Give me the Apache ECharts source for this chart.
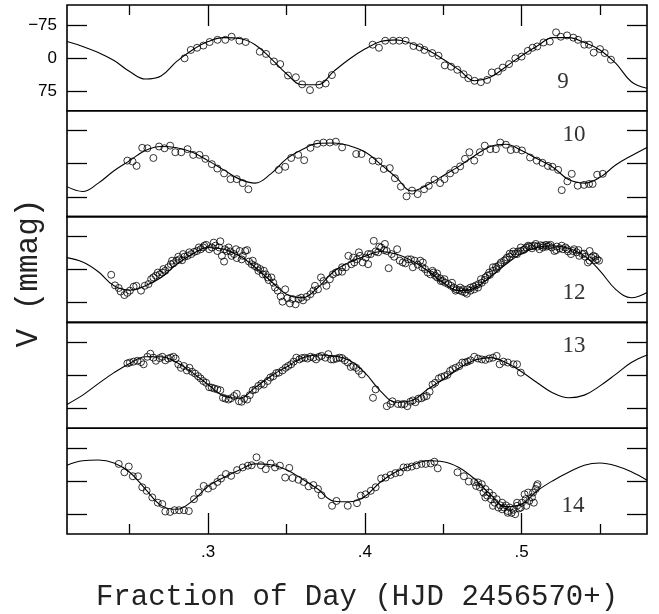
<!DOCTYPE html>
<html><head><meta charset="utf-8">
<script src="https://cdn.jsdelivr.net/npm/echarts@6/dist/echarts.min.js"></script>
<style>html,body{margin:0;padding:0;background:#fff}#c{width:659px;height:614px}</style>
</head><body><div id="c"></div>
<script>
const panelLabels = ['9','10','12','13','14'];
const xTitle = 'Fraction of Day (HJD 2456570+)';
const yTitle = 'V (mmag)';
const yTickValues = [-75, 0, 75];
const yTickLabels = ['\u221275', '0', '75'];
const xMajorTicks = [0.3, 0.4, 0.5];
const xMajorLabels = ['.3', '.4', '.5'];
const xMinorTicks = [0.25, 0.35, 0.45, 0.55];

const curveX = [0.21,0.22,0.23,0.24,0.25,0.26,0.27,0.28,0.29,0.30,0.31,0.32,0.33,0.34,0.35,0.36,0.37,0.38,0.39,0.40,0.41,0.42,0.43,0.44,0.45,0.46,0.47,0.48,0.49,0.50,0.51,0.52,0.53,0.54,0.55,0.56,0.57,0.58];
const curve9  = [-37,-26,-12,6,31,48,41,8,-18,-37,-46,-44,-30,1,36,61,61,31,3,-20,-37,-41,-32,-18,3,27,52,44,20,-5,-27,-46,-46,-35,-18,12,54,69];
const curve10 = [52,63,44,16,-7,-30,-39,-36,-26,-7,14,35,44,23,-11,-32,-46,-47,-41,-27,1,31,62,48,27,6,-18,-39,-44,-30,-11,8,36,44,31,3,-18,-37];
const curve12 = [-27,-17,5,37,47,37,18,-12,-35,-50,-46,-31,-5,26,56,64,41,5,-16,-30,-41,-35,-20,3,30,48,42,17,-12,-36,-50,-54,-48,-31,3,45,64,52];
const curve13 = [66,45,19,-6,-27,-42,-42,-29,-6,21,47,52,28,2,-19,-39,-46,-44,-34,-6,36,61,57,32,9,-16,-34,-40,-29,-8,17,40,51,45,24,-2,-29,-46];
const curve14 = [-36,-46,-48,-41,-20,18,55,64,45,12,-8,-25,-39,-37,-26,-5,18,45,47,35,2,-21,-36,-46,-44,-31,-5,30,58,52,22,-1,-20,-36,-41,-35,-21,-2];

const pts9 = [[.285,1],[.289,-18],[.293,-23],[.297,-28],[.301,-36],[.306,-41],[.311,-41],[.315,-48],[.320,-39],[.324,-36],[.333,-14],[.337,-9],[.342,8],[.346,14],[.351,40],[.356,44],[.360,60],[.365,73],[.371,61],[.375,58],[.379,39],[.405,-30],[.409,-23],[.413,-39],[.418,-39],[.422,-39],[.426,-39],[.431,-27],[.435,-24],[.438,-18],[.443,-11],[.447,-5],[.451,17],[.455,20],[.459,27],[.463,37],[.466,46],[.470,52],[.474,55],[.478,50],[.481,33],[.485,31],[.488,22],[.492,14],[.496,1],[.500,-3],[.504,-16],[.507,-23],[.510,-26],[.514,-35],[.518,-37],[.522,-58],[.525,-48],[.529,-51],[.533,-46],[.536,-41],[.540,-30],[.543,-30],[.546,-12],[.550,-20],[.553,-11],[.557,4]];

const pts10 = [[.2485,-7],[.2518,-5],[.2544,5],[.258,-36],[.2613,-35],[.2651,-13],[.2687,-39],[.2722,-35],[.2758,-41],[.2791,-26],[.2829,-26],[.2869,-33],[.2905,-20],[.2945,-20],[.2983,-11],[.3024,1],[.3059,11],[.3102,22],[.3143,35],[.3183,35],[.3221,44],[.3257,58],[.3451,14],[.3492,7],[.353,-13],[.3575,-20],[.3613,-8],[.3653,-36],[.3696,-45],[.3736,-48],[.3777,-48],[.3815,-50],[.3855,-37],[.3945,-22],[.3979,-22],[.405,-7],[.4088,-5],[.4121,12],[.4159,10],[.4192,33],[.423,52],[.4266,74],[.4301,61],[.4337,69],[.4378,58],[.4408,50],[.4444,36],[.448,44],[.4508,35],[.4544,22],[.4575,14],[.4608,6],[.4639,-11],[.4667,-26],[.4698,-7],[.4734,-26],[.4765,-41],[.48,-33],[.4836,-33],[.4864,-48],[.49,-43],[.4931,-31],[.4967,-33],[.5002,-30],[.5054,-14],[.5097,-7],[.5133,-2],[.5168,5],[.5197,7],[.5233,14],[.5256,60],[.5292,40],[.532,23],[.5358,50],[.5399,48],[.543,46],[.5453,46],[.5482,25],[.5518,23]];

const pts12 = [[.2382,12],[.2406,36],[.2430,42],[.2442,50],[.2466,58],[.2485,53],[.2501,48],[.2525,39],[.2542,37],[.2572,48],[.2596,37],[.2620,33],[.2651,18],[.2667,14],[.2691,11],[.2708,7],[.2727,3],[.2746,-5],[.2762,-12],[.2779,-14],[.2798,-20],[.2817,-23],[.2834,-21],[.2850,-29],[.2869,-31],[.2893,-35],[.2912,-40],[.2929,-42],[.2953,-46],[.2969,-50],[.2988,-56],[.3007,-46],[.3024,-50],[.3047,-54],[.3059,-42],[.3078,-64],[.3088,-31],[.3102,-18],[.3119,-42],[.3131,-50],[.3150,-31],[.3166,-35],[.3183,-26],[.3202,-42],[.3221,-31],[.3237,-42],[.3249,-44],[.3261,-18],[.3278,-12],[.3297,-8],[.3313,-5],[.3332,-1],[.3349,11],[.3368,11],[.3387,24],[.3404,18],[.3416,30],[.3427,41],
[.2637,22],[.2679,7],[.2715,-1],[.2770,-20],[.2810,-29],[.2841,-35],[.2881,-39],[.2941,-50],[.2976,-54],[.3036,-61],[.3071,-50],[.3107,-46],[.3142,-41],[.3178,-46],[.3214,-23],[.3285,-20],[.3321,3],[.3356,3],[.3380,18],
[.3444,48],[.3463,61],[.3475,73],[.3492,45],[.3506,65],[.3522,77],[.3539,67],[.3558,79],[.3577,67],[.3594,64],[.3606,70],[.3629,62],[.3653,56],[.3672,48],[.3682,37],[.3701,45],[.3720,18],[.3736,26],[.3755,37],[.3777,22],[.3796,11],[.3815,7],[.3831,5],[.3855,5],[.3879,-5],[.3895,-31],[.3914,-12],[.3933,-16],[.3950,-23],[.3969,-31],[.3986,-16],[.4005,-27],[.4021,-12],[.4038,-35],[.4057,-65],[.4069,-41],[.4085,-39],[.4104,-50],[.4123,-44],[.4140,-42],[.4152,-3],[.4171,-35],[.4187,-29],[.4206,-46],[.4223,-20],
[.3855,-5],[.3926,-27],[.3962,-39],[.4021,-35],[.4092,-52],[.4128,-58],
[.4242,-16],[.4259,-14],[.4275,-23],[.4294,-23],[.4306,-5],[.4318,-20],[.4337,-11],[.4353,-20],[.4370,-16],[.4384,-1],[.4401,7],[.4418,11],[.4432,3],[.4449,14],[.4461,18],[.4480,20],[.4496,26],[.4513,30],[.4532,33],[.4549,37],[.4567,41],[.4584,45],[.4603,47],[.4622,50],[.4639,52],[.4655,45],[.4674,41],[.4693,39],[.4710,36],[.4727,33],[.4746,30],[.4765,24],[.4781,14],[.4798,12],[.4817,3],[.4836,-6],[.4852,-8],[.4869,-16],[.4888,-20],[.4907,-27],[.4924,-29],[.4940,-35],[.4959,-36],[.4978,-41],[.4995,-42],[.5011,-44],[.5030,-50],[.5049,-52],[.5066,-53],[.5082,-54],[.5101,-52],[.5121,-55],[.5137,-54],[.5156,-56],[.5173,-54],[.5192,-50],[.5209,-42],[.5225,-52],[.5244,-48],[.5263,-46],[.5280,-50],[.5296,-41],[.5315,-35],[.5335,-46],[.5351,-39],[.5368,-31],[.5387,-35],[.5406,-29],[.5423,-16],[.5434,-42],[.5446,-27],[.5458,-31],[.5470,-21],[.5482,-23],[.5494,-20],
[.4366,-5],[.4437,7],[.4461,9],[.4484,26],[.4508,22],[.4556,30],[.4579,48],[.4608,41],[.4627,45],[.4651,55],[.4674,48],[.4698,45],[.4722,41],[.4741,22],[.4769,18],[.4793,7],[.4817,-5],[.4841,-1],[.4864,-12],[.4900,-23],[.4924,-36],[.4948,-41],[.4971,-35],[.4995,-50],[.5019,-46],[.5042,-54],[.5066,-48],[.5090,-58],[.5114,-46],[.5137,-50],[.5161,-52],[.5185,-56],[.5221,-44],[.5256,-54],[.5292,-46],[.5327,-42],[.5363,-44],[.5399,-36],[.5434,-20],[.5470,-29]];

const pts13 = [[.2485,-27],[.2501,-29],[.2525,-31],[.2549,-33],[.2572,-30],[.2589,-25],[.2613,-42],[.2632,-49],[.2651,-40],[.2667,-33],[.2691,-39],[.2708,-42],[.2727,-34],[.2746,-38],[.2762,-40],[.2779,-42],[.2793,-38],[.2810,-25],[.2827,-17],[.2846,-21],[.2865,-11],[.2881,-17],[.2898,-8],[.2917,-4],[.2936,2],[.2952,7],[.2969,13],[.2988,17],[.3007,27],[.3024,28],[.3040,30],[.3059,32],[.3078,34],[.3095,51],[.3112,53],[.3131,55],[.3147,52],[.3166,47],[.3183,42],[.3197,59],[.3214,60],[.3230,53],[.3249,55],[.3266,45],[.3285,34],[.3302,32],[.3321,24],[.3340,19],[.3356,21],[.3380,13],[.3397,5],[.3416,2],[.3435,-5],[.3451,-6],[.3475,-11],[.3494,-17],[.3511,-21],[.3530,-25],[.3546,-31],[.3563,-40],[.3582,-36],[.3598,-39],[.3617,-40],[.3634,-38],[.3653,-42],[.3672,-40],[.3689,-36],[.3708,-42],[.3724,-44],[.3748,-40],[.3767,-48],[.3784,-36],[.3800,-36],[.3819,-38],[.3838,-40],[.3855,-39],[.3872,-34],[.3891,-29],[.3910,-19],[.3926,-21],[.3945,-17],[.3962,-10],[.3981,-2],[.4052,51],[.4069,32],[.4140,70],[.4164,65],[.4176,59],[.4211,65],[.4235,66],[.4252,65],[.4271,70],[.4290,60],[.4306,57],[.4323,61],[.4342,53],[.4361,52],[.4377,49],[.4394,47],[.4413,37],[.4432,21],[.4449,17],[.4472,7],[.4489,4],[.4508,2],[.4527,-1],[.4544,-10],[.4560,-14],[.4579,-17],[.4603,-21],[.4622,-29],[.4639,-29],[.4655,-31],[.4674,-34],[.4698,-42],[.4722,-38],[.4746,-36],[.4769,-35],[.4793,-38],[.4817,-40],[.4841,-44],[.4860,-25],[.4884,-31],[.4912,-29],[.4948,-25],[.4971,-25],[.4995,-6]];

const pts14 = [[.2430,-39],[.2466,-20],[.2494,-33],[.2520,-11],[.2553,-11],[.2580,14],[.2608,22],[.2644,37],[.2679,49],[.2708,52],[.2727,69],[.2758,70],[.2786,66],[.2815,66],[.2846,66],[.2877,68],[.2910,41],[.2941,26],[.2972,11],[.3000,17],[.3031,11],[.3059,2],[.3083,-6],[.3114,-16],[.3147,-12],[.3185,-25],[.3221,-31],[.3254,-35],[.3278,-36],[.3309,-54],[.3337,-36],[.3368,-27],[.3399,-40],[.3427,-31],[.3458,-35],[.3492,-8],[.3518,-30],[.3539,-7],[.3577,-3],[.3610,2],[.3641,12],[.3672,9],[.3701,18],[.3724,32],[.3791,56],[.3819,45],[.3891,56],[.3950,50],[.3974,33],[.4005,30],[.4038,22],[.4069,14],[.4104,-6],[.4133,-8],[.4164,-14],[.4195,-18],[.4223,-20],[.4247,-31],[.4271,-31],[.4299,-33],[.4330,-36],[.4361,-39],[.4389,-39],[.4420,-40],[.4444,-44],[.4465,-29],[.4591,-20],[.4632,-11],[.4663,1],[.4698,2],[.4722,3],[.4746,7],[.4769,18],[.4793,26],[.4817,33],[.4841,41],[.4864,55],[.4888,60],[.4912,68],[.4936,72],[.4959,75],[.4983,62],[.5002,49],[.5026,41],[.5049,45],[.5073,26],[.5097,11],[.4710,11],[.4734,14],[.4757,26],[.4781,33],[.4805,41],[.4829,49],[.4852,60],[.4876,64],[.4900,55],[.4924,60],[.4948,65],[.4971,56],[.4995,60],[.5019,30],[.5042,26],[.5066,37],[.5090,18],[.5102,7],[.4769,37],[.4817,56],[.4876,49],[.4912,72],[.4971,49],[.5030,56],[.5078,49]];

const curves = [curve9, curve10, curve12, curve13, curve14];
const points = [pts9, pts10, pts12, pts13, pts14];

const chart = echarts.init(document.getElementById('c'), null, {renderer: 'canvas'});
const L = 67, R = 12, T = 5, H = 105.8, N = 5;
const labelPos = [[563, 82], [574, 135], [574, 293], [574, 346], [573, 506]];
const grids = [], xAxes = [], yAxes = [], series = [], graphics = [];
const sansFont = '"Liberation Sans", Arial, sans-serif';

for (let i = 0; i < N; i++) {
  const isTop = i === 0, isBot = i === N - 1;
  grids.push({left: L, right: R, top: T + i * H, height: H, show: true, borderColor: '#000', borderWidth: 1.6, backgroundColor: 'transparent'});
  const showX = isTop || isBot;
  xAxes.push({
    type: 'value', gridIndex: i, min: 0.21, max: 0.58, show: showX, position: isBot ? 'bottom' : 'top',
    axisLine: {show: false, onZero: false}, splitLine: {show: false},
    axisTick: {show: true, inside: true, length: 21, customValues: xMajorTicks, lineStyle: {color: '#000', width: 1.3}},
    axisLabel: {show: isBot, customValues: xMajorTicks, margin: 10, fontFamily: sansFont, fontSize: 17, color: '#000',
      formatter: v => { const k = xMajorTicks.findIndex(t => Math.abs(t - v) < 1e-6); return k >= 0 ? xMajorLabels[k] : ''; }}
  });
  xAxes.push({
    type: 'value', gridIndex: i, min: 0.21, max: 0.58, show: showX, position: isBot ? 'bottom' : 'top',
    axisLine: {show: false, onZero: false}, splitLine: {show: false},
    axisTick: {show: true, inside: true, length: 10, customValues: xMinorTicks, lineStyle: {color: '#000', width: 1.3}},
    axisLabel: {show: false}
  });
  yAxes.push({
    type: 'value', gridIndex: i, min: -120, max: 120, inverse: true, position: 'left',
    axisLine: {show: false, onZero: false}, splitLine: {show: false},
    axisTick: {show: true, inside: true, length: 20, customValues: yTickValues, lineStyle: {color: '#000', width: 1.3}},
    axisLabel: {show: isTop, customValues: yTickValues, margin: 10, fontFamily: sansFont, fontSize: 17, color: '#000',
      formatter: v => { const k = yTickValues.indexOf(v); return k >= 0 ? yTickLabels[k] : ''; }}
  });
  yAxes.push({
    type: 'value', gridIndex: i, min: -120, max: 120, inverse: true, position: 'right',
    axisLine: {show: false, onZero: false}, splitLine: {show: false},
    axisTick: {show: true, inside: true, length: 20, customValues: yTickValues, lineStyle: {color: '#000', width: 1.3}},
    axisLabel: {show: false}
  });
  series.push({
    type: 'line', xAxisIndex: 2 * i, yAxisIndex: 2 * i, smooth: 0.4, showSymbol: false, silent: true,
    lineStyle: {color: '#000', width: 1.1}, data: curveX.map((x, k) => [x, curves[i][k]]), z: 2
  });
  series.push({
    type: 'scatter', xAxisIndex: 2 * i, yAxisIndex: 2 * i, symbol: 'circle', symbolSize: 7, silent: true,
    itemStyle: {color: 'rgba(0,0,0,0)', borderColor: '#000', borderWidth: 1}, data: points[i], z: 3
  });
  graphics.push({type: 'text', x: labelPos[i][0], y: labelPos[i][1], style: {text: panelLabels[i], font: '23px "Liberation Serif", serif', fill: '#333', align: 'center', verticalAlign: 'middle'}});
}
graphics.push({type: 'text', x: 357, y: 597, style: {text: xTitle, font: '29px "Liberation Mono", monospace', fill: '#222', align: 'center', verticalAlign: 'middle'}});
graphics.push({type: 'text', x: 29, y: 273, rotation: Math.PI / 2, style: {text: yTitle, font: '31px "Liberation Mono", monospace', fill: '#222', align: 'center', verticalAlign: 'middle'}});

chart.setOption({animation: false, grid: grids, xAxis: xAxes, yAxis: yAxes, series: series, graphic: graphics});
</script>
</body></html>
